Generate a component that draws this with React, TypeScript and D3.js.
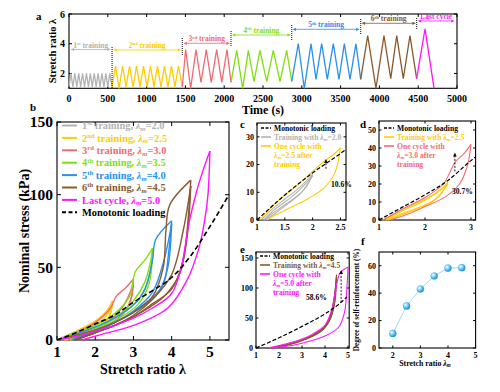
import React from 'react';
import * as d3 from 'd3';

type P = [number, number];
type Seg = { t: string; k?: 'sup' | 'sub'; i?: boolean };

const F = '"Liberation Serif", "Times New Roman", serif';
const GRAY = '#b3b3b3';
const YELLOW = '#ffcc00';
const RED = '#f26b73';
const GREEN = '#7fe00f';
const BLUE = '#2a90ee';
const BROWN = '#8a5a2e';
const MAGENTA = '#ff14ff';
const FBLUE = '#35aef0';

// ---- panel a : stretch ratio vs time (vertices of the triangle waves)
const aGray: P[] = [[0,1.1],[25,2],[50,1.1],[75,2],[100,1.1],[125,2],[150,1.1],[175,2],[200,1.1],[225,2],[250,1.1],[275,2],[300,1.1],[325,2],[350,1.1],[375,2],[400,1.1],[425,2],[450,1.1],[475,2],[500,1.1],[525,2],[555,1.1]];
const aYellow: P[] = [[555,1.1],[600,2.5],[645,1.0],[690,2.5],[735,1.1],[780,2.5],[825,1.1],[870,2.5],[915,1.1],[960,2.5],[1005,1.1],[1050,2.5],[1095,1.1],[1140,2.5],[1185,1.1],[1230,2.5],[1275,1.1],[1320,2.5],[1365,1.1],[1410,2.5],[1460,1.1]];
const aRed: P[] = [[1460,1.1],[1503,3.6],[1568,1.0],[1636,3.6],[1701,1.4],[1769,3.6],[1834,1.4],[1903,3.6],[1968,1.4],[2036,3.6],[2088,1.4]];
const aGreen: P[] = [[2088,1.4],[2161,3.55],[2238,1.0],[2311,3.55],[2384,1.45],[2461,3.55],[2548,1.45],[2633,3.55],[2719,1.45],[2805,3.55],[2870,1.45]];
const aBlue: P[] = [[2870,1.45],[2955,4.0],[3032,1.0],[3119,4.0],[3183,1.6],[3256,4.0],[3329,1.6],[3406,4.0],[3479,1.6],[3548,4.0],[3621,1.6],[3698,4.0],[3759,1.6]];
const aBrown: P[] = [[3759,1.6],[3849,4.55],[3956,1.0],[4059,4.55],[4146,1.65],[4223,4.55],[4308,1.65],[4394,4.55],[4480,1.65]];
const aMagenta: P[] = [[4480,1.65],[4588,5.0],[4704,1.0]];
const aSpans: P[] = [[20,540],[570,1445],[1475,2075],[2100,2860],[2880,3745],[3770,4470],[4495,4970]];
const aNames: Seg[][] = [
  [{ t: '1' }, { t: 'st', k: 'sup' }, { t: ' training' }],
  [{ t: '2' }, { t: 'nd', k: 'sup' }, { t: ' training' }],
  [{ t: '3' }, { t: 'rd', k: 'sup' }, { t: ' training' }],
  [{ t: '4' }, { t: 'th', k: 'sup' }, { t: ' training' }],
  [{ t: '5' }, { t: 'th', k: 'sup' }, { t: ' training' }],
  [{ t: '6' }, { t: 'th', k: 'sup' }, { t: ' training' }],
  [{ t: 'Last cycle' }],
];
const aBounds = [555, 1460, 2088, 2870, 3759, 4480];

// ---- panel b : nominal stress (kPa) vs stretch ratio, loading / unloading branches
const bMono: P[] = [[1,0],[1.5,5],[2,11],[2.5,17],[3,26],[3.5,34],[4,43],[4.5,58],[5,78],[5.5,100]];
const bGray: P[][] = [
  [[1,0],[1.25,3],[1.5,6],[1.75,9],[2,13]],
  [[2,13],[1.85,8],[1.5,3.5],[1.25,1],[1.1,0]],
  [[1.1,0],[1.4,4],[1.7,8],[2,12]],
  [[2,12],[1.8,6.5],[1.5,3],[1.2,0]],
];
const bYellow: P[][] = [
  [[1.05,0],[1.5,6],[2,13],[2.3,20],[2.45,27]],
  [[2.45,27],[2.35,15],[2,8],[1.5,3],[1.2,0]],
  [[1.2,0],[1.6,5],[2,10],[2.3,17],[2.45,25]],
  [[2.45,25],[2.3,13],[1.9,6.5],[1.5,2.5],[1.25,0]],
];
const bRed: P[][] = [
  [[1,0],[1.5,5],[2,12],[2.4,22],[2.55,30],[2.8,36],[3,42]],
  [[3,42],[2.93,28],[2.7,17],[2.3,10],[1.8,5],[1.3,0]],
  [[1.3,0],[1.8,6],[2.3,12],[2.7,22],[2.9,32],[3,40]],
  [[3,40],[2.9,25],[2.6,15],[2.1,8],[1.6,3],[1.35,0]],
];
const bGreen: P[][] = [
  [[1,0],[1.5,5],[2,10],[2.5,18],[2.9,30],[3.05,47],[3.3,55],[3.5,63]],
  [[3.5,63],[3.42,45],[3.2,30],[2.8,20],[2.2,10],[1.7,4],[1.35,0]],
  [[1.35,0],[2,8],[2.6,17],[3,27],[3.3,40],[3.5,61]],
  [[3.5,61],[3.4,38],[3.1,24],[2.5,13],[1.9,5],[1.4,0]],
];
const bBlue: P[][] = [
  [[1,0],[1.5,4],[2,9],[2.5,15],[3,24],[3.3,35],[3.5,55],[3.58,69],[4,82]],
  [[4,82],[3.92,60],[3.8,40],[3.5,28],[3,19],[2.5,12],[2,6],[1.5,1.5],[1.4,0]],
  [[1.4,0],[2,6],[2.5,12],[3,20],[3.5,33],[3.8,55],[4,80]],
  [[4,80],[3.9,50],[3.7,35],[3.3,25],[2.8,16],[2.2,8],[1.6,1.5],[1.45,0]],
];
const bBrown: P[][] = [
  [[1,0],[2,7],[2.5,12],[3,19],[3.5,30],[3.78,50],[3.85,75],[3.95,93],[4.5,110]],
  [[4.5,110],[4.42,80],[4.3,55],[4,35],[3.5,25],[3,16],[2.5,10],[2,5],[1.45,0]],
  [[1.45,0],[2,5],[2.5,10],[3,17],[3.5,28],[4,45],[4.3,75],[4.5,106]],
  [[4.5,106],[4.4,70],[4.2,45],[3.8,30],[3.2,19],[2.6,11],[2,5],[1.5,0]],
];
const bMagenta: P[][] = [
  [[1,0],[1.5,2.5],[2,6],[2.5,10],[3,15],[3.5,22],[4,32],[4.25,50],[4.45,80],[4.65,102],[4.8,115],[5,130]],
  [[5,130],[4.95,100],[4.85,80],[4.7,62],[4.4,41],[3.9,22],[3,10],[2.1,3.4],[1.65,0]],
];
const bLegend: Seg[][] = ['1|st|2.0', '2|nd|2.5', '3|rd|3.0', '4|th|3.5', '5|th|4.0', '6|th|4.5'].map(s => {
  const [n, sp, v] = s.split('|');
  return [{ t: n }, { t: sp, k: 'sup' as const }, { t: ' training, ' }, { t: 'λ', i: true }, { t: 'm', k: 'sub' as const, i: true }, { t: '=' + v }];
});

// ---- panel c
const cMono: P[] = [[1,0],[1.5,9],[2,17],[2.5,24],[2.6,25.5]];
const cGray: P[][] = [
  [[1.08,0],[1.25,3.5],[1.5,7.5],[1.75,11.5],[2,16.5]],
  [[2,16.5],[1.85,11],[1.5,5.5],[1.25,2],[1.12,0]],
  [[1.12,0],[1.3,3.5],[1.6,8],[1.8,11.5],[2,16]],
  [[2,16],[1.8,10],[1.5,5],[1.3,2],[1.15,0]],
];
const cYellow: P[][] = [
  [[1.05,0],[1.25,4.5],[1.5,9],[1.75,13],[2,17.5],[2.2,21],[2.4,24],[2.5,26]],
  [[2.5,26],[2.4,17],[2.2,11.5],[1.9,7.5],[1.6,4.5],[1.35,2],[1.18,0]],
];

// ---- panel d
const dMono: P[] = [[1,0],[1.5,7],[2,14],[2.5,22],[3,33],[3.1,35]];
const dYellow: P[][] = [
  [[1.08,0],[1.5,5.5],[2,11.5],[2.3,16],[2.5,21]],
  [[2.5,21],[2.3,13],[2,8.5],[1.5,3.5],[1.15,0]],
  [[1.15,0],[1.5,5],[2,11],[2.5,20]],
  [[2.5,20],[2.2,11],[1.8,6],[1.4,2],[1.2,0]],
];
const dRed: P[][] = [
  [[1.1,0],[1.5,6],[2,12.5],[2.4,20],[2.55,27],[2.65,32],[2.85,37],[3,42]],
  [[3,42],[2.92,30],[2.75,20],[2.45,13],[2,7.5],[1.6,3],[1.25,0]],
];

// ---- panel e
const eMono: P[] = [[1,0],[2,17],[3,36],[4,57],[4.5,70],[4.95,85]];
const eBrown: P[][] = [
  [[1.5,0],[2,3],[3,13],[3.5,22],[4,36],[4.3,62],[4.5,122]],
  [[4.5,122],[4.42,80],[4.25,50],[3.9,30],[3.2,15],[2.4,5],[1.65,0]],
  [[1.65,0],[2.5,7],[3.2,16],[3.8,28],[4.2,50],[4.5,118]],
  [[4.5,118],[4.4,70],[4.1,40],[3.5,22],[2.7,9],[1.9,1],[1.7,0]],
];
const eMagenta: P[][] = [
  [[1.5,0],[2,4],[3,15],[3.5,24],[4,38],[4.3,65],[4.5,105],[4.65,125],[5,135]],
  [[5,135],[4.95,100],[4.85,60],[4.6,35],[4,20],[3,8],[2.2,2],[1.7,0]],
];

// ---- panel f : degree of self-reinforcement (%)
const fLambda = [2, 2.5, 3, 3.5, 4, 4.5];
const fDegree = [10.6, 30.7, 43, 52.5, 58.3, 58.6];

function Rich({ x, y, fs, segs, fill = '#000', anchor = 'start' }: { x: number; y: number; fs: number; segs: Seg[]; fill?: string; anchor?: string }) {
  let shift = 0;
  return (
    <text x={x} y={y} fontSize={fs} fill={fill} textAnchor={anchor}>
      {segs.map((s, i) => {
        const target = s.k === 'sup' ? -fs * 0.36 : s.k === 'sub' ? fs * 0.18 : 0;
        const dy = target - shift;
        shift = target;
        return (
          <tspan key={i} dy={dy} fontSize={s.k ? fs * 0.65 : fs} fontStyle={s.i ? 'italic' : undefined}>{s.t}</tspan>
        );
      })}
    </text>
  );
}

function Frame({ xs, ys, xt, yt, fs, xo, yo, tl = 3, fx = String, fy = String }: any) {
  const [x0, x1] = xs.range();
  const [y0, y1] = ys.range();
  return (
    <g>
      <rect x={x0} y={y1} width={x1 - x0} height={y0 - y1} fill="none" stroke="#000" strokeWidth={1.1} />
      {xt.map((v: number) => (
        <g key={'x' + v}>
          <line x1={xs(v)} x2={xs(v)} y1={y0} y2={y0 - tl} stroke="#000" />
          <line x1={xs(v)} x2={xs(v)} y1={y1} y2={y1 + tl} stroke="#000" />
          <text x={xs(v)} y={y0 + xo} fontSize={fs} textAnchor="middle">{fx(v)}</text>
        </g>
      ))}
      {yt.map((v: number) => (
        <g key={'y' + v}>
          <line x1={x0} x2={x0 + tl} y1={ys(v)} y2={ys(v)} stroke="#000" />
          <line x1={x1} x2={x1 - tl} y1={ys(v)} y2={ys(v)} stroke="#000" />
          <text x={x0 - yo} y={ys(v) + fs * 0.35} fontSize={fs} textAnchor="end">{fy(v)}</text>
        </g>
      ))}
    </g>
  );
}

function Curves({ sets, xs, ys, w = 1.3 }: { sets: [P[][], string][]; xs: any; ys: any; w?: number }) {
  const line = d3.line<P>().x(d => xs(d[0])).y(d => ys(d[1])).curve(d3.curveCatmullRom.alpha(0.5));
  return (
    <g fill="none" strokeWidth={w} strokeLinejoin="round">
      {sets.map(([curves, c], i) => curves.map((pts, j) => <path key={i + '-' + j} d={line(pts) || ''} stroke={c} />))}
    </g>
  );
}

function Dashed({ pts, xs, ys, w = 1.4, dash = '5,3' }: { pts: P[]; xs: any; ys: any; w?: number; dash?: string }) {
  const line = d3.line<P>().x(d => xs(d[0])).y(d => ys(d[1])).curve(d3.curveMonotoneX);
  return <path d={line(pts) || ''} fill="none" stroke="#000" strokeWidth={w} strokeDasharray={dash} />;
}

function UpArrow({ x, y0, y1 }: { x: number; y0: number; y1: number }) {
  return (
    <g>
      <line x1={x} x2={x} y1={y0} y2={y1 + 3} stroke="#000" strokeWidth={0.9} strokeDasharray="2,1.5" />
      <polygon points={`${x},${y1} ${x - 1.8},${y1 + 4} ${x + 1.8},${y1 + 4}`} fill="#000" />
    </g>
  );
}

function SmallLegend({ x, y, items, fs = 7.6 }: { x: number; y: number; items: { segs: Seg[]; color: string; dash?: boolean; lines?: Seg[][] }[]; fs?: number }) {
  return (
    <g>
      {items.map((it, i) => (
        <g key={i}>
          <line x1={x} x2={x + 10} y1={y + i * 9} y2={y + i * 9} stroke={it.dash ? '#000' : it.color} strokeWidth={1.6} strokeDasharray={it.dash ? '3,1.5' : undefined} />
          <Rich x={x + 13} y={y + i * 9 + fs * 0.35} fs={fs} segs={it.segs} fill={it.dash ? '#000' : it.color} />
          {(it.lines || []).map((l, k) => (
            <Rich key={k} x={x + 13} y={y + (i + k + 1) * 9 + fs * 0.35} fs={fs} segs={l} fill={it.color} />
          ))}
        </g>
      ))}
    </g>
  );
}

const lm = (v: string): Seg[] => [{ t: 'λ', i: true }, { t: 'm', k: 'sub', i: true }, { t: '=' + v }];

export default function App() {
  // scales
  const xa = d3.scaleLinear().domain([0, 5000]).range([69, 457]);
  const ya = d3.scaleLinear().domain([1, 6]).range([88.3, 14]);
  const xb = d3.scaleLinear().domain([1, 5.5]).range([57, 229]);
  const yb = d3.scaleLinear().domain([0, 150]).range([340, 122]);
  const xc = d3.scaleLinear().domain([1, 2.6]).range([257, 346]);
  const yc = d3.scaleLinear().domain([0, 35]).range([220, 123]);
  const xd = d3.scaleLinear().domain([1, 3.1]).range([379, 475.6]);
  const yd = d3.scaleLinear().domain([0, 55]).range([220, 121]);
  const xe = d3.scaleLinear().domain([1, 5.05]).range([256, 349.2]);
  const ye = d3.scaleLinear().domain([0, 160]).range([348, 252]);
  const xf = d3.scaleLinear().domain([1.5, 5]).range([379, 475.6]);
  const yf = d3.scaleLinear().domain([0, 70]).range([348, 252]);

  const aLine = d3.line<P>().x(d => xa(d[0])).y(d => ya(d[1]));
  const aColors = [GRAY, YELLOW, RED, GREEN, BLUE, BROWN, MAGENTA];
  const aData = [aGray, aYellow, aRed, aGreen, aBlue, aBrown, aMagenta];
  const arrowY = [49.5, 50, 43.3, 35, 29.3, 23.3, 21];
  const boundY: P[] = [[47, 88], [38, 55], [31, 46], [25, 40], [19, 35], [18, 30]];

  const fLine = d3.line<number>().x((_, i) => xf(fLambda[i])).y(d => yf(d));

  return (
    <svg width={500} height={392} style={{ position: 'absolute', left: 0, top: 0, background: '#fff' }} fontFamily={F} fontWeight="bold">
      <defs>
        <radialGradient id="ball" cx="35%" cy="35%" r="65%">
          <stop offset="0%" stopColor="#ffffff" />
          <stop offset="45%" stopColor="#7fd0fa" />
          <stop offset="100%" stopColor="#1590dc" />
        </radialGradient>
      </defs>

      {/* ---------- a ---------- */}
      <text x={36} y={20} fontSize={11}>a</text>
      <Frame xs={xa} ys={ya} xt={d3.range(0, 5001, 500)} yt={[2, 4, 6]} fs={10} xo={14} yo={4} />
      <text x={263} y={114} fontSize={12} textAnchor="middle">Time (s)</text>
      <text transform="translate(56,51) rotate(-90)" fontSize={10.5} textAnchor="middle">Stretch ratio λ</text>
      {aData.map((d, i) => (
        <path key={i} d={aLine(d) || ''} fill="none" stroke={aColors[i]} strokeWidth={1.3} />
      ))}
      {aSpans.map((s, i) => {
        const x0 = xa(s[0]);
        const x1 = xa(s[1]);
        const y = arrowY[i];
        const c = aColors[i];
        return (
          <g key={i}>
            <line x1={x0 + 2} x2={x1 - 2} y1={y} y2={y} stroke={c} strokeWidth={0.8} />
            <polygon points={`${x0},${y} ${x0 + 3.5},${y - 1.6} ${x0 + 3.5},${y + 1.6}`} fill={c} />
            <polygon points={`${x1},${y} ${x1 - 3.5},${y - 1.6} ${x1 - 3.5},${y + 1.6}`} fill={c} />
            <Rich x={(x0 + x1) / 2} y={y - 2} fs={7.5} segs={aNames[i]} fill={c} anchor="middle" />
          </g>
        );
      })}
      {aBounds.map((t, i) => (
        <line key={i} x1={xa(t)} x2={xa(t)} y1={boundY[i][0]} y2={boundY[i][1]} stroke="#222" strokeWidth={1.1} strokeDasharray="1,1" />
      ))}

      {/* ---------- b ---------- */}
      <text x={30} y={111} fontSize={11}>b</text>
      <Frame xs={xb} ys={yb} xt={[1, 2, 3, 4, 5]} yt={[0, 50, 100, 150]} fs={15.5} xo={17} yo={4} tl={4} />
      <text x={143} y={374} fontSize={14} textAnchor="middle">Stretch ratio λ</text>
      <text transform="translate(29,231) rotate(-90)" fontSize={14} textAnchor="middle">Nominal stress (kPa)</text>
      <Curves xs={xb} ys={yb} w={1.4} sets={[[bGray, GRAY], [bYellow, YELLOW], [bRed, RED], [bGreen, GREEN], [bBlue, BLUE], [bBrown, BROWN], [bMagenta, MAGENTA]]} />
      <Dashed pts={bMono} xs={xb} ys={yb} w={1.6} />
      {[...bLegend, [{ t: 'Last cycle, ' }, ...lm('5.0')], [{ t: 'Monotonic loading' }]].map((segs, i) => {
        const c = i < 7 ? aColors[i] : '#000';
        const y = 125.5 + i * 12.4;
        return (
          <g key={i}>
            <line x1={62} x2={77} y1={y} y2={y} stroke={c} strokeWidth={2} strokeDasharray={i === 7 ? '4,2.5' : undefined} />
            <Rich x={82} y={y + 3.7} fs={10.4} segs={segs as Seg[]} fill={c} />
          </g>
        );
      })}

      {/* ---------- c ---------- */}
      <text x={240} y={128} fontSize={11}>c</text>
      <Frame xs={xc} ys={yc} xt={[1, 1.5, 2, 2.5]} yt={[0, 10, 20, 30]} fs={8} xo={10} yo={3} tl={2.5} />
      <Curves xs={xc} ys={yc} w={1.1} sets={[[cGray, GRAY], [cYellow, YELLOW]]} />
      <Dashed pts={cMono} xs={xc} ys={yc} w={1.2} dash="4,2" />
      <UpArrow x={xc(2.24)} y0={yc(18.5)} y1={yc(22)} />
      <text x={331} y={187} fontSize={7.6}>10.6%</text>
      <SmallLegend x={261} y={128} items={[
        { segs: [{ t: 'Monotonic loading' }], color: '#000', dash: true },
        { segs: [{ t: 'Training with ' }, ...lm('2.0')], color: GRAY },
        { segs: [{ t: 'One cycle with' }], color: YELLOW, lines: [[...lm('2.5'), { t: ' after' }], [{ t: 'training' }]] },
      ]} />

      {/* ---------- d ---------- */}
      <text x={360} y={128} fontSize={11}>d</text>
      <Frame xs={xd} ys={yd} xt={[1, 2, 3]} yt={[0, 10, 20, 30, 40, 50]} fs={8} xo={10} yo={3} tl={2.5} />
      <Curves xs={xd} ys={yd} w={1.1} sets={[[dYellow, YELLOW], [dRed, RED]]} />
      <Dashed pts={dMono} xs={xd} ys={yd} w={1.2} dash="4,2" />
      <UpArrow x={xd(2.65)} y0={yd(27)} y1={yd(37.5)} />
      <text x={452} y={194} fontSize={7.6}>30.7%</text>
      <SmallLegend x={384} y={128} items={[
        { segs: [{ t: 'Monotonic loading' }], color: '#000', dash: true },
        { segs: [{ t: 'Training with ' }, ...lm('2.5')], color: YELLOW },
        { segs: [{ t: 'One cycle with' }], color: RED, lines: [[...lm('3.0'), { t: ' after' }], [{ t: 'training' }]] },
      ]} />

      {/* ---------- e ---------- */}
      <text x={240} y={253} fontSize={11}>e</text>
      <Frame xs={xe} ys={ye} xt={[1, 2, 3, 4, 5]} yt={[0, 50, 100, 150]} fs={8} xo={10} yo={3} tl={2.5} />
      <Curves xs={xe} ys={ye} w={1.1} sets={[[eBrown, BROWN], [eMagenta, MAGENTA]]} />
      <Dashed pts={eMono} xs={xe} ys={ye} w={1.2} dash="4,2" />
      <UpArrow x={xe(4.7)} y0={ye(76)} y1={ye(130)} />
      <text x={306} y={300} fontSize={7.6}>58.6%</text>
      <SmallLegend x={260} y={256} items={[
        { segs: [{ t: 'Monotonic loading' }], color: '#000', dash: true },
        { segs: [{ t: 'Training with ' }, ...lm('4.5')], color: BROWN },
        { segs: [{ t: 'One cycle with' }], color: MAGENTA, lines: [[...lm('5.0'), { t: ' after' }], [{ t: 'training' }]] },
      ]} />

      {/* ---------- f ---------- */}
      <text x={361} y={245} fontSize={11}>f</text>
      <Frame xs={xf} ys={yf} xt={[2, 3, 4, 5]} yt={[0, 20, 40, 60]} fs={8} xo={10} yo={3} tl={2.5} />
      <path d={fLine(fDegree) || ''} fill="none" stroke="#8ed4f8" strokeWidth={0.9} />
      {fDegree.map((v, i) => (
        <circle key={i} cx={xf(fLambda[i])} cy={yf(v)} r={3.6} fill="url(#ball)" stroke={FBLUE} strokeWidth={0.3} />
      ))}
      <Rich x={425} y={366} fs={7.8} anchor="middle" segs={[{ t: 'Stretch ratio ' }, { t: 'λ', i: true }, { t: 'm', k: 'sub', i: true }]} />
      <text transform="translate(359,300) rotate(-90)" fontSize={7.3} textAnchor="middle">Degree of self-reinforcement (%)</text>
    </svg>
  );
}
